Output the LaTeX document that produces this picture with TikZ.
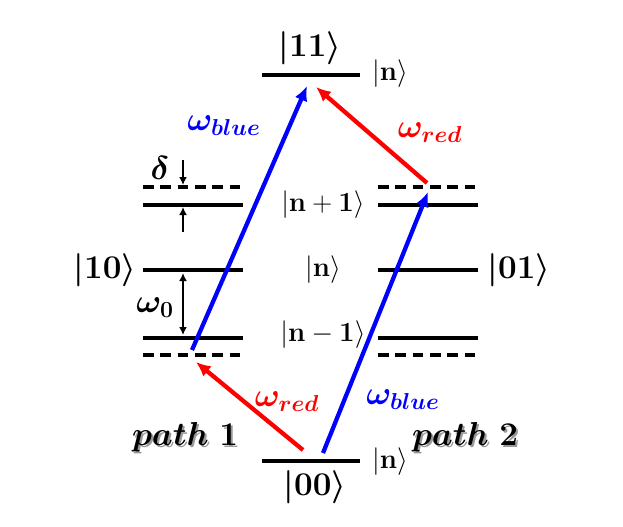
\documentclass[tikz,border=0pt]{standalone}
\usepackage{amsmath,bm}
\usetikzlibrary{arrows.meta}
\begin{document}
\begin{tikzpicture}[x=0.75pt,y=-0.75pt,
  lvl/.style={line width=2.6pt},
  dlvl/.style={line width=2.6pt,dash pattern=on 8pt off 5pt},
  bl/.style={blue,line width=3.2pt,-{Latex[length=11pt,width=10pt]}},
  rd/.style={red,line width=3.2pt,-{Latex[length=11pt,width=10pt]}},
  sm/.style={line width=1.4pt,-{Latex[length=6pt,width=6pt]}},
  big/.style={font=\fontsize{31}{36}\selectfont},
  mid/.style={font=\fontsize{21}{25}\selectfont},
  lab/.style={font=\fontsize{26}{30}\selectfont}]
\useasboundingbox (0,0) rectangle (623,526);
% levels
\coordinate (tl) at (262,75); \coordinate (tr) at (360,75);
\draw[lvl] (tl) -- (tr);
\coordinate (bl0) at (262,461); \coordinate (br0) at (360,461);
\draw[lvl] (bl0) -- (br0);
\foreach \x/\n in {143/L,378/R}{
  \draw[dlvl] (\x,187) -- ++(100,0);
  \draw[lvl] (\x,205) -- ++(100,0);
  \draw[lvl] (\x,270) -- ++(100,0);
  \draw[lvl] (\x,338) -- ++(100,0);
  \draw[dlvl] (\x,355) -- ++(100,0);
}
% arrows
\coordinate (a1) at (192,350); \coordinate (a2) at (307,86);
\draw[bl] (a1) -- (a2);
\coordinate (b1) at (303,450); \coordinate (b2) at (196,362);
\draw[rd] (b1) -- (b2);
\coordinate (c1) at (427,183); \coordinate (c2) at (316,87);
\draw[rd] (c1) -- (c2);
\coordinate (d1) at (323,453); \coordinate (d2) at (428,192);
\draw[bl] (d1) -- (d2);
% small arrows
\coordinate (s1) at (183,160); \coordinate (s2) at (183,185);
\draw[sm] (s1) -- (s2);
\coordinate (s3) at (183,232); \coordinate (s4) at (183,207);
\draw[sm] (s3) -- (s4);
\coordinate (w1) at (183,273); \coordinate (w2) at (183,335);
\draw[line width=1.4pt,{Latex[length=6pt,width=6pt]}-{Latex[length=6pt,width=6pt]}] (w1) -- (w2);
% labels
\node[big] (k11) at (310,48) {$\bm{|11\rangle}$};
\node[mid] (nt) at (390,74) {$|\mathbf{n}\rangle$};
\node[lab,blue] (wb1) at (224,126) {$\bm{\omega_{blue}}$};
\node[lab,red] (wr1) at (430,133) {$\bm{\omega_{red}}$};
\node[lab] (dl) at (160,168) {$\bm{\delta}$};
\node[mid] (np) at (323,205) {$|\mathbf{n+1}\rangle$};
\node[big] (k10) at (105,270) {$\bm{|10\rangle}$};
\node[mid] (nm) at (323,270) {$|\mathbf{n}\rangle$};
\node[big] (k01) at (519,270) {$\bm{|01\rangle}$};
\node[lab] (w0) at (155,308) {$\bm{\omega_0}$};
\node[mid] (nn) at (323,335) {$|\mathbf{n-1}\rangle$};
\node[lab,red] (wr2) at (287,402) {$\bm{\omega_{red}}$};
\node[lab,blue] (wb2) at (403,400) {$\bm{\omega_{blue}}$};
\node[lab,black!40] at (187,439) {$\bm{path\ 1}$};
\node[lab] (p1) at (185,437) {$\bm{path\ 1}$};
\node[lab,black!40] at (467,439) {$\bm{path\ 2}$};
\node[lab] (p2) at (465,437) {$\bm{path\ 2}$};
\node[big] (k00) at (315,487) {$\bm{|00\rangle}$};
\node[mid] (nb) at (390,462) {$|\mathbf{n}\rangle$};
\end{tikzpicture}
\end{document}
